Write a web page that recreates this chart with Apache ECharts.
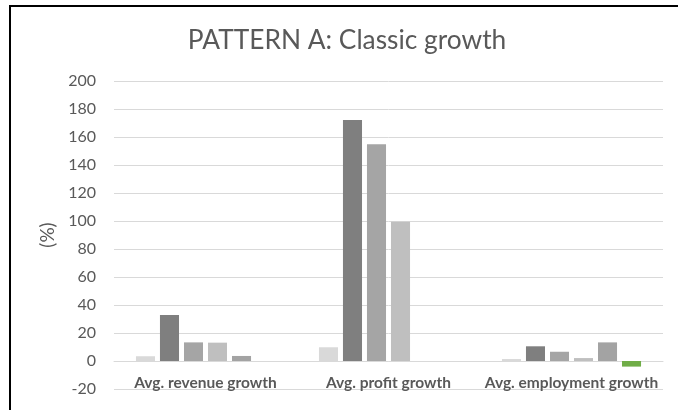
<!DOCTYPE html>
<html>
<head>
<meta charset="utf-8">
<script src="https://cdn.jsdelivr.net/npm/echarts@6/dist/echarts.min.js"></script>
<style>
  html, body { margin: 0; padding: 0; background: #fff; }
  #wrap { position: relative; width: 678px; height: 410px; }
  #chart { position: absolute; left: 0; top: 0; width: 678px; height: 410px; }
  #frame { position: absolute; left: 9px; top: 5px; right: 0; bottom: 0;
           border-top: 2px solid #000; border-left: 2px solid #000; pointer-events: none; }
</style>
</head>
<body>
<div id="wrap">
  <div id="chart"></div>
  <div id="frame"></div>
</div>
<script>
const categories = ['Avg. revenue growth', 'Avg. profit growth', 'Avg. employment growth'];
const series1 = [3.4, 9.8, 1.4];
const series2 = [32.8, 172.2, 10.5];
const series3 = [13.3, 154.8, 6.6];
const series4 = [13.1, 99.5, 2.1];
const series5 = [3.6, 0, 13.3];
const series6 = [0, 0, -4];
const yTicks = { min: -20, max: 200, interval: 20 };

const colors = ['#d9d9d9', '#7f7f7f', '#a5a5a5', '#bfbfbf', '#a3a3a3', '#70ad47'];
const allSeries = [series1, series2, series3, series4, series5, series6];

const chart = echarts.init(document.getElementById('chart'));
chart.setOption({
  animation: false,
  title: {
    text: 'PATTERN A: Classic growth',
    left: 342,
    textAlign: 'center',
    top: 23,
    textStyle: { fontFamily: 'Lato', fontSize: 26.3, fontWeight: 'normal', color: '#595959' }
  },
  grid: { left: 114, right: 15, top: 81, bottom: 21, containLabel: false, outerBoundsMode: 'none' },
  xAxis: {
    type: 'category',
    data: categories,
    offset: -28,
    axisLine: { onZero: false, lineStyle: { color: '#d9d9d9', width: 1 } },
    axisTick: { show: false },
    axisLabel: { interval: 0, fontFamily: 'Lato', fontSize: 15.5, fontWeight: 'bold', color: '#595959', margin: 14 },
    splitLine: { show: false }
  },
  yAxis: {
    type: 'value',
    min: yTicks.min,
    max: yTicks.max,
    interval: yTicks.interval,
    name: '(%)',
    nameLocation: 'middle',
    nameGap: 50,
    nameRotate: 90,
    nameTextStyle: { fontFamily: 'Lato', fontSize: 19, color: '#595959' },
    axisLine: { show: false },
    axisTick: { show: false },
    axisLabel: { fontFamily: 'Lato', fontSize: 16, color: '#595959', margin: 18 },
    splitLine: { lineStyle: { color: '#d9d9d9', width: 1 } }
  },
  series: allSeries.map((d, i) => ({
    type: 'bar',
    name: 'Series ' + (i + 1),
    data: d,
    barGap: '26%',
    barCategoryGap: '24%',
    itemStyle: { color: colors[i] }
  }))
});
</script>
</body>
</html>
